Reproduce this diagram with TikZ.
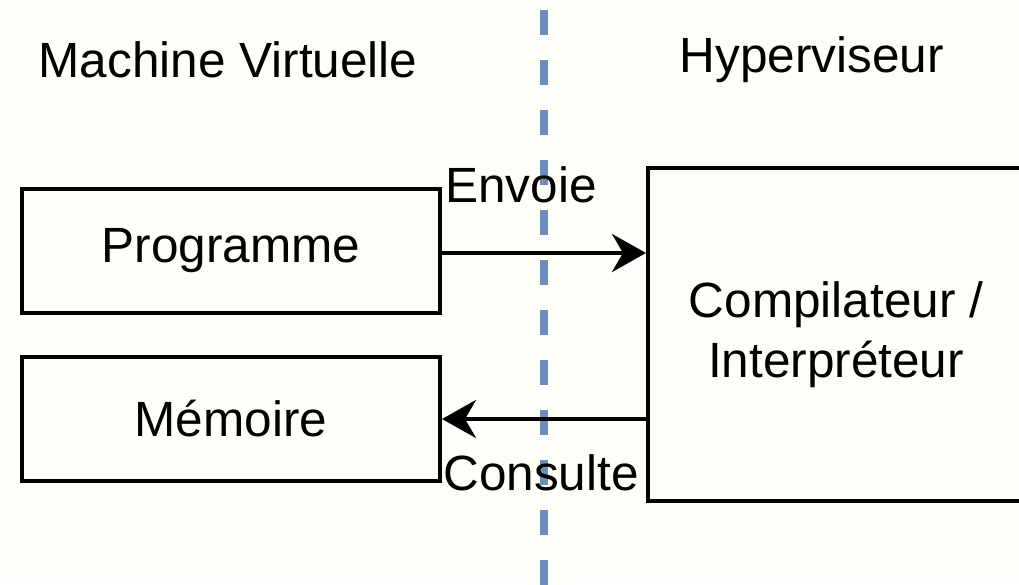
\documentclass[tikz,border=0pt]{standalone}
\usepackage{fontspec}
\setmainfont{Liberation Sans}
\usetikzlibrary{arrows.meta,calc}
\definecolor{bg}{HTML}{FFFEF8}
\definecolor{sepblue}{HTML}{6C8EBF}
\begin{document}
\begin{tikzpicture}[x=1pt,y=-1pt,
  every node/.style={font=\fontsize{49.5}{60}\selectfont, inner sep=0pt},
  box/.style={draw=black, line width=4pt, fill=bg},
  conn/.style={line width=4pt, -{Stealth[length=34pt,width=38pt,inset=11pt]}},
  lbl/.style={text=black},
  sepseg/.style={draw=sepblue, line width=8pt}]
\useasboundingbox (0,0) rectangle (1019,584);
\clip (0,0) rectangle (1019,584);
\fill[bg] (0,0) rectangle (1019,584);
\coordinate (septop) at (544,10);
\foreach \k in {0,...,11} {
  \draw[sepseg] ($(septop)+(0,50*\k)$) -- ++(0,25);
}
\node[lbl] (vm) at (228,60) {Machine Virtuelle};
\node[lbl] (hv) at (812,60) {Hyperviseur};
\node[box, minimum width=418pt, minimum height=124pt] (prog) at (231,251) {Programme};
\node[box, minimum width=418pt, minimum height=124pt] (mem) at (231,419) {Mémoire};
\node[box, minimum width=376pt, minimum height=333pt, align=center, fill=none] (comp) at (836,334.5) {Compilateur /\\Interpréteur};
\draw[conn] (prog.east |- 0,253) -- (comp.west |- 0,253);
\draw[conn] (comp.west |- 0,419) -- (mem.east |- 0,419);
\node[lbl] (env) at (521,185) {Envoie};
\node[lbl] (cons) at (541,473) {Consulte};
\end{tikzpicture}
\end{document}
